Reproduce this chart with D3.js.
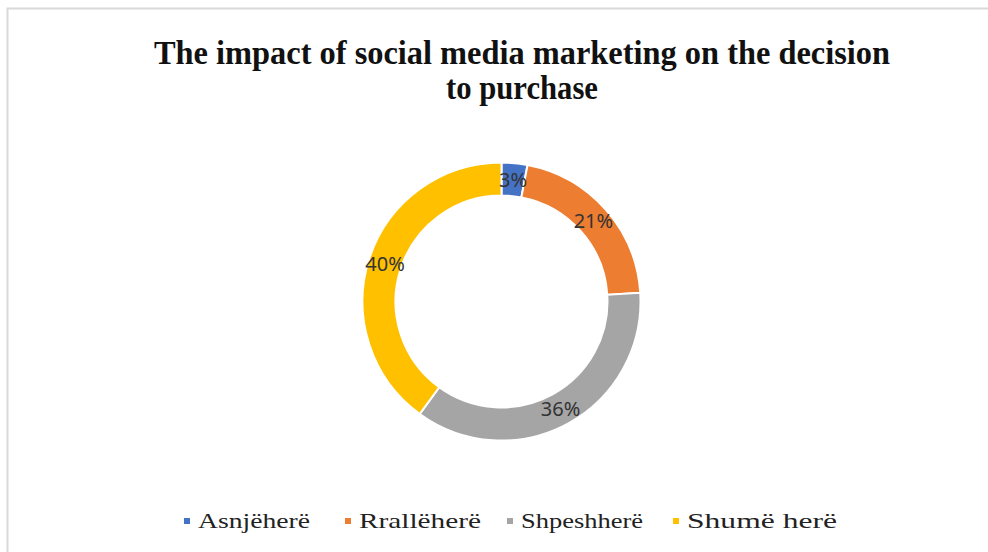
<!DOCTYPE html>
<html>
<head>
<meta charset="utf-8">
<script src="https://cdn.jsdelivr.net/npm/d3@7"></script>
<style>
  html, body { margin: 0; padding: 0; background: #fff; }
  svg { display: block; }
</style>
</head>
<body>
<svg id="chart" width="988" height="552"></svg>
<script>
// Survey answers and their shares (percent)
const categories = ["Asnjëherë", "Rrallëherë", "Shpeshherë", "Shumë herë"];
const shares = [3, 21, 36, 40];
const colors = ["#4472C4", "#ED7D31", "#A5A5A5", "#FFC000"];
const titleLines = ["The impact  of social media  marketing  on the decision", "to purchase"];

const svg = d3.select("#chart");

// chart frame
svg.append("rect")
  .attr("x", 7.5).attr("y", 8.5)
  .attr("width", 1000).attr("height", 600)
  .attr("fill", "#fff")
  .attr("stroke", "#d9d9d9")
  .attr("stroke-width", 2);

// title (condensed bold serif)
const title = svg.append("text")
  .attr("text-anchor", "middle")
  .attr("font-family", "'Liberation Serif', 'Times New Roman', serif")
  .attr("font-weight", "bold")
  .attr("font-size", 34)
  .attr("fill", "#111");
title.append("tspan").attr("x", 522).attr("y", 64)
  .attr("textLength", 736).attr("lengthAdjust", "spacingAndGlyphs")
  .text(titleLines[0]);
title.append("tspan").attr("x", 522).attr("y", 99)
  .attr("textLength", 152).attr("lengthAdjust", "spacingAndGlyphs")
  .text(titleLines[1]);

// donut
const cx = 501.5, cy = 301.5, outerR = 139, innerR = 106;
const data = categories.map((c, i) => ({ name: c, value: shares[i], color: colors[i] }));
const pie = d3.pie().value(d => d.value).sort(null);
const arc = d3.arc().innerRadius(innerR).outerRadius(outerR);
const arcs = pie(data);

const g = svg.append("g").attr("transform", `translate(${cx},${cy})`);
g.selectAll("path.slice")
  .data(arcs)
  .join("path")
  .attr("class", "slice")
  .attr("d", arc)
  .attr("fill", d => d.data.color)
  .attr("stroke", "#fff")
  .attr("stroke-width", 2);

// value labels at the middle of each ring segment
g.selectAll("text.val")
  .data(arcs)
  .join("text")
  .attr("class", "val")
  .attr("transform", d => `translate(${arc.centroid(d)})`)
  .attr("text-anchor", "middle")
  .attr("dominant-baseline", "central")
  .attr("font-family", "'Noto Sans', 'Open Sans', sans-serif")
  .attr("font-size", 20)
  .attr("fill", "#333")
  .text(d => d.data.value + "%");

// legend
const legendX = [184, 345, 507, 673];
const legendW = [112, 122, 122, 150];
const legend = svg.append("g");
const items = legend.selectAll("g.item")
  .data(data)
  .join("g")
  .attr("class", "item")
  .attr("transform", (d, i) => `translate(${legendX[i]},521)`);
items.append("rect")
  .attr("x", 0).attr("y", -3)
  .attr("width", 6).attr("height", 6)
  .attr("fill", d => d.color);
items.append("text")
  .attr("x", 14).attr("y", 7)
  .attr("font-family", "'Liberation Serif', 'Times New Roman', serif")
  .attr("font-size", 21)
  .attr("fill", "#222")
  .attr("textLength", (d, i) => legendW[i])
  .attr("lengthAdjust", "spacingAndGlyphs")
  .text(d => d.name);
</script>
</body>
</html>
